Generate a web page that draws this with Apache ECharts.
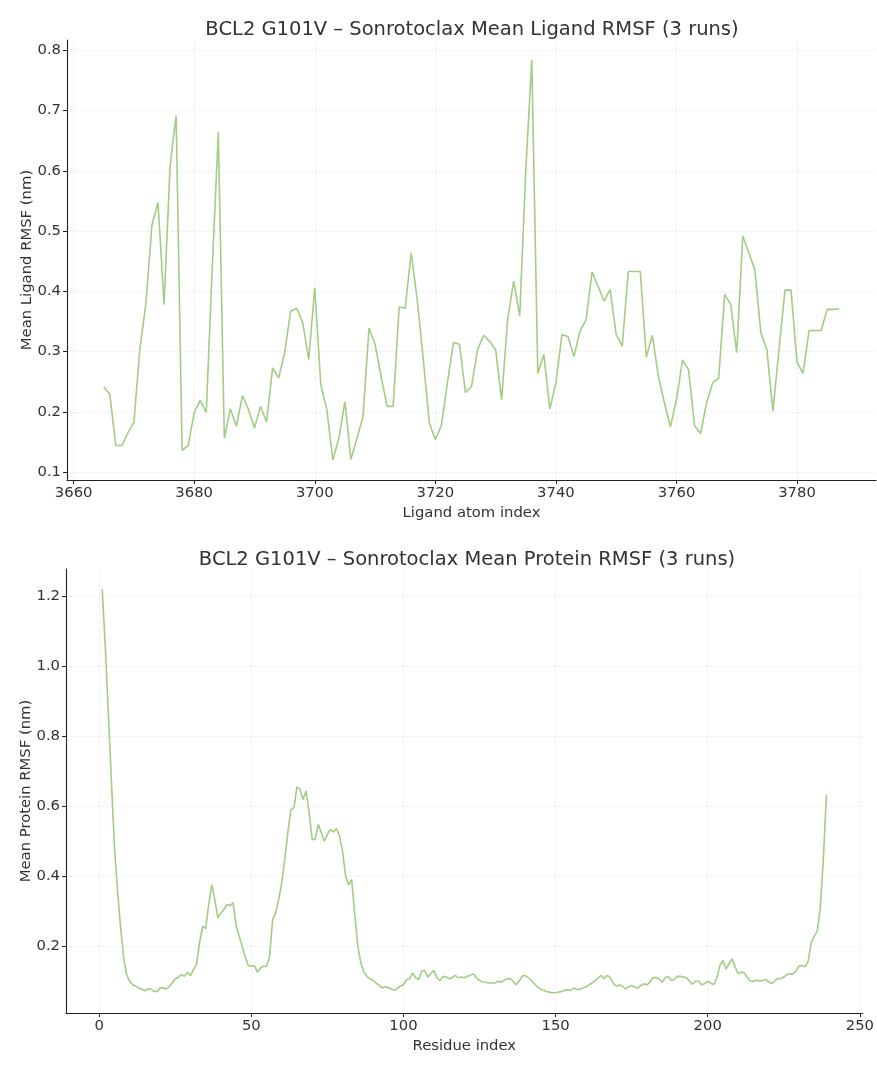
<!DOCTYPE html>
<html>
<head>
<meta charset="utf-8">
<title>BCL2 G101V – Sonrotoclax RMSF</title>
<script src="https://cdn.jsdelivr.net/npm/echarts@6/dist/echarts.min.js"></script>
<style>
  html, body { margin: 0; padding: 0; background: #ffffff; }
  #chart { width: 877px; height: 1066px; }
</style>
</head>
<body>
<div id="chart"></div>
<script>
// Ligand atoms 3665..3787, mean RMSF over 3 runs (nm)
const ligandStart = 3665;
const ligandRmsf = [
  0.241, 0.229, 0.144, 0.144, 0.165, 0.183, 0.305, 0.381, 0.511, 0.547,
  0.378, 0.608, 0.692, 0.136, 0.144, 0.199, 0.219, 0.199, 0.440, 0.664,
  0.156, 0.205, 0.176, 0.227, 0.204, 0.173, 0.209, 0.183, 0.273, 0.256,
  0.298, 0.367, 0.372, 0.348, 0.287, 0.406, 0.245, 0.204, 0.120, 0.156,
  0.217, 0.121, 0.156, 0.192, 0.339, 0.312, 0.259, 0.209, 0.209, 0.374,
  0.372, 0.464, 0.386, 0.287, 0.182, 0.154, 0.177, 0.248, 0.315, 0.312,
  0.232, 0.242, 0.303, 0.327, 0.317, 0.303, 0.220, 0.354, 0.417, 0.359,
  0.600, 0.784, 0.264, 0.295, 0.205, 0.248, 0.328, 0.325, 0.292, 0.334,
  0.353, 0.432, 0.408, 0.384, 0.403, 0.328, 0.309, 0.433, 0.433, 0.433,
  0.291, 0.327, 0.259, 0.215, 0.175, 0.220, 0.286, 0.270, 0.177, 0.164,
  0.215, 0.248, 0.256, 0.395, 0.378, 0.298, 0.492, 0.464, 0.436, 0.331,
  0.303, 0.201, 0.303, 0.402, 0.402, 0.282, 0.264, 0.335, 0.335, 0.335,
  0.370, 0.370, 0.371
];

// Residues 1..239, mean RMSF over 3 runs (nm)
const residueStart = 1;
const proteinRmsf = [
  1.219, 1.057, 0.867, 0.676, 0.486, 0.362, 0.257, 0.171, 0.119, 0.100,
  0.090, 0.086, 0.081, 0.078, 0.073, 0.078, 0.078, 0.071, 0.071, 0.081,
  0.081, 0.078, 0.084, 0.095, 0.107, 0.111, 0.119, 0.114, 0.126, 0.116,
  0.133, 0.148, 0.210, 0.257, 0.250, 0.319, 0.376, 0.333, 0.281, 0.295,
  0.305, 0.319, 0.316, 0.324, 0.259, 0.229, 0.200, 0.171, 0.145, 0.143,
  0.145, 0.126, 0.138, 0.143, 0.143, 0.171, 0.276, 0.295, 0.333, 0.381,
  0.448, 0.524, 0.590, 0.595, 0.655, 0.648, 0.619, 0.643, 0.581, 0.505,
  0.505, 0.548, 0.524, 0.500, 0.519, 0.533, 0.526, 0.536, 0.515, 0.470,
  0.400, 0.375, 0.390, 0.290, 0.200, 0.152, 0.126, 0.114, 0.107, 0.103,
  0.095, 0.088, 0.081, 0.084, 0.082, 0.078, 0.074, 0.080, 0.086, 0.090,
  0.105, 0.107, 0.124, 0.110, 0.105, 0.129, 0.131, 0.112, 0.122, 0.131,
  0.110, 0.102, 0.114, 0.112, 0.107, 0.110, 0.117, 0.110, 0.112, 0.110,
  0.114, 0.117, 0.121, 0.110, 0.102, 0.098, 0.097, 0.095, 0.095, 0.095,
  0.100, 0.097, 0.102, 0.107, 0.108, 0.100, 0.090, 0.100, 0.114, 0.117,
  0.110, 0.103, 0.093, 0.084, 0.078, 0.074, 0.071, 0.069, 0.067, 0.067,
  0.069, 0.071, 0.074, 0.076, 0.074, 0.081, 0.076, 0.078, 0.081, 0.084,
  0.090, 0.095, 0.102, 0.110, 0.117, 0.107, 0.117, 0.110, 0.093, 0.086,
  0.090, 0.086, 0.078, 0.084, 0.088, 0.084, 0.080, 0.088, 0.093, 0.090,
  0.097, 0.110, 0.111, 0.107, 0.097, 0.110, 0.114, 0.102, 0.105, 0.114,
  0.114, 0.112, 0.110, 0.100, 0.092, 0.100, 0.100, 0.090, 0.093, 0.100,
  0.095, 0.090, 0.110, 0.145, 0.160, 0.135, 0.150, 0.164, 0.141, 0.122,
  0.126, 0.124, 0.110, 0.100, 0.100, 0.103, 0.101, 0.102, 0.105, 0.099,
  0.093, 0.100, 0.108, 0.107, 0.112, 0.119, 0.121, 0.121, 0.129, 0.143,
  0.145, 0.141, 0.157, 0.210, 0.229, 0.243, 0.310, 0.450, 0.633
];

// Tick positions
const ligandXTicks = [3660, 3680, 3700, 3720, 3740, 3760, 3780];
const ligandYTicks = [0.1, 0.2, 0.3, 0.4, 0.5, 0.6, 0.7, 0.8];
const proteinXTicks = [0, 50, 100, 150, 200, 250];
const proteinYTicks = [0.2, 0.4, 0.6, 0.8, 1.0, 1.2];

const lineColor = '#a3cc85';
const textColor = '#333333';
const fontFamily = '"DejaVu Sans", sans-serif';
const labelSize = 14.8;
const titleSize = 19.5;

// 5% padding around the data range on each side
function padded(lo, hi) {
  const m = (hi - lo) * 0.05;
  return { min: lo - m, max: hi + m };
}

const ligandPairs = ligandRmsf.map((v, i) => [ligandStart + i, v]);
const proteinPairs = proteinRmsf.map((v, i) => [residueStart + i, v]);

const lx = padded(ligandStart, ligandStart + ligandRmsf.length - 1);
const ly = padded(Math.min(...ligandRmsf), Math.max(...ligandRmsf));
const px = padded(residueStart, residueStart + proteinRmsf.length - 1);
const py = padded(Math.min(...proteinRmsf), Math.max(...proteinRmsf));

function axis(grid, range, ticks, name, gap, fmt) {
  return {
    type: 'value', gridIndex: grid, min: range.min, max: range.max,
    name: name, nameLocation: 'middle', nameGap: gap, nameMoveOverlap: false,
    nameTextStyle: { color: textColor, fontSize: labelSize, fontFamily: fontFamily },
    axisLine: { show: true, onZero: false, lineStyle: { color: '#222', width: 1.1 } },
    axisTick: { show: true, inside: false, length: 4, customValues: ticks,
                lineStyle: { color: '#222', width: 1 } },
    axisLabel: { customValues: ticks, margin: 6, color: textColor, fontSize: labelSize,
                 fontFamily: fontFamily, formatter: fmt },
    splitLine: { show: true, lineStyle: { color: '#e6e6e6', width: 0.8, type: [2, 2] } }
  };
}

const chart = echarts.init(document.getElementById('chart'), null, { renderer: 'canvas' });
chart.setOption({
  backgroundColor: '#ffffff',
  animation: false,
  title: [
    { text: 'BCL2 G101V – Sonrotoclax Mean Ligand RMSF (3 runs)', left: 467, top: 15,
      textAlign: 'center',
      textStyle: { color: textColor, fontSize: titleSize, fontWeight: 'normal', fontFamily: fontFamily } },
    { text: 'BCL2 G101V – Sonrotoclax Mean Protein RMSF (3 runs)', left: 462, top: 545,
      textAlign: 'center',
      textStyle: { color: textColor, fontSize: titleSize, fontWeight: 'normal', fontFamily: fontFamily } }
  ],
  grid: [
    { left: 67, right: 1, top: 40, height: 440 },
    { left: 66, right: 12, top: 569, height: 444 }
  ],
  xAxis: [
    axis(0, lx, ligandXTicks, 'Ligand atom index', 26, v => String(Math.round(v))),
    axis(1, px, proteinXTicks, 'Residue index', 26, v => String(Math.round(v)))
  ],
  yAxis: [
    axis(0, ly, ligandYTicks, 'Mean Ligand RMSF (nm)', 32, v => v.toFixed(1)),
    axis(1, py, proteinYTicks, 'Mean Protein RMSF (nm)', 32, v => v.toFixed(1))
  ],
  series: [
    { type: 'line', xAxisIndex: 0, yAxisIndex: 0, data: ligandPairs, showSymbol: false,
      lineStyle: { color: lineColor, width: 1.6 }, silent: true },
    { type: 'line', xAxisIndex: 1, yAxisIndex: 1, data: proteinPairs, showSymbol: false,
      lineStyle: { color: lineColor, width: 1.6 }, silent: true }
  ]
});
</script>
</body>
</html>
